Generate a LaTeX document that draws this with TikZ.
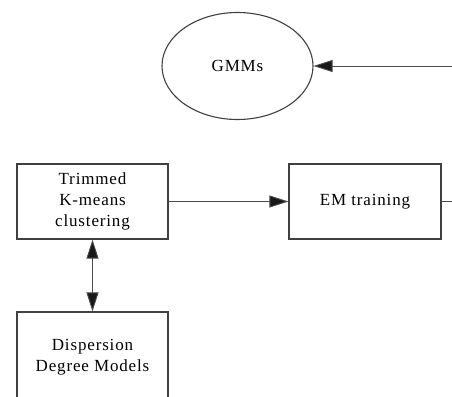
\documentclass[tikz,border=0pt]{standalone}
\usepackage{fontspec}
\setmainfont[LetterSpace=5]{Liberation Serif}
\usetikzlibrary{arrows.meta,shapes.geometric}
\begin{document}
\begin{tikzpicture}[
    x=1pt, y=-1pt,
    >={Triangle[length=19pt,width=12pt,fill=black!90]},
    line/.style={draw=black!70, line width=0.9pt},
    block/.style={rectangle, draw=black!75, line width=1.2pt, align=center,
      inner sep=0pt, font=\fontsize{17}{21}\selectfont},
    model/.style={ellipse, draw=black!75, line width=1.1pt, inner sep=0pt,
      font=\fontsize{17}{21}\selectfont}
  ]
    \useasboundingbox (0,0) rectangle (452,396);
    \clip (0,0) rectangle (452,396);
    \node[model, minimum width=151pt, minimum height=107pt] (gmm)
      at (237.5,66) {GMMs};
    \node[block, minimum width=151pt, minimum height=75pt] (trim)
      at (92.5,201.5) {Trimmed\\K-means\\clustering};
    \node[block, minimum width=152pt, minimum height=75pt] (em)
      at (365,201.5) {EM training};
    \node[block, minimum width=151pt, minimum height=90pt] (disp)
      at (92.5,357) {Dispersion\\Degree Models};
    \coordinate (gmmin) at (452,66);
    \coordinate (emout) at (452,201.5);
    \draw[line, ->] (gmmin) -- (gmm.east);
    \draw[line, ->] (trim) -- (em);
    \draw[line] (em.east) -- (emout);
    \draw[line, <->] (trim) -- (disp);
  \end{tikzpicture}
\end{document}
